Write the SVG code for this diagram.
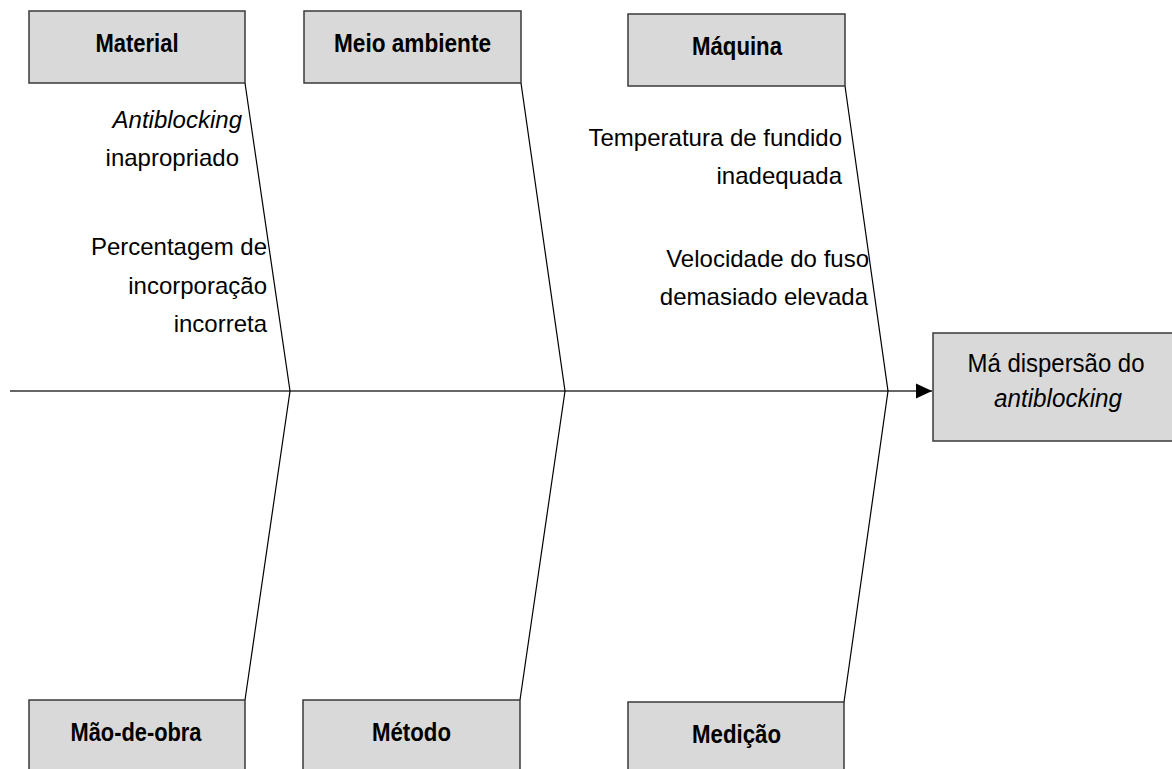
<svg xmlns="http://www.w3.org/2000/svg" width="1172" height="769" viewBox="0 0 1172 769">
<style>
.box{fill:#d9d9d9;stroke:#3a3a3a;stroke-width:1.5}
.lbl{font-family:"Liberation Sans",Arial,sans-serif;font-size:26px;font-weight:bold;fill:#000;text-anchor:middle}
.cause{font-family:"Liberation Sans",Arial,sans-serif;font-size:24px;fill:#000;text-anchor:end}
.eff{font-family:"Liberation Sans",Arial,sans-serif;font-size:25px;fill:#000;text-anchor:middle}
.bone{stroke:#000;stroke-width:1.2;fill:none}
.spine{stroke:#333;stroke-width:1.5;fill:none}
</style>
<defs>
<marker id="arrow" markerWidth="16" markerHeight="16" refX="16" refY="8" orient="auto" markerUnits="userSpaceOnUse">
<path d="M0,0.5 L16,8 L0,15.5 Z" fill="#000"/>
</marker>
</defs>
<g id="connectors">
<line class="spine" x1="10" y1="391" x2="932" y2="391" marker-end="url(#arrow)"/>
<polyline class="bone" points="245,83 290,391 245,700"/>
<polyline class="bone" points="521,83 565,391 520,700"/>
<polyline class="bone" points="845,86 888,391 844,702"/>
</g>
<g id="material">
<rect class="box" x="29" y="11" width="216" height="72"/>
<text class="lbl" x="137" y="52" textLength="83" lengthAdjust="spacingAndGlyphs">Material</text>
</g>
<g id="meio-ambiente">
<rect class="box" x="304" y="11" width="217" height="72"/>
<text class="lbl" x="412.5" y="52" textLength="157" lengthAdjust="spacingAndGlyphs">Meio ambiente</text>
</g>
<g id="maquina">
<rect class="box" x="628" y="14" width="217" height="72"/>
<text class="lbl" x="737" y="55" textLength="90" lengthAdjust="spacingAndGlyphs">Máquina</text>
</g>
<g id="mao-de-obra">
<rect class="box" x="29" y="700" width="216" height="80"/>
<text class="lbl" x="136" y="741" textLength="131" lengthAdjust="spacingAndGlyphs">Mão-de-obra</text>
</g>
<g id="metodo">
<rect class="box" x="303" y="700" width="217" height="80"/>
<text class="lbl" x="411.5" y="741" textLength="79" lengthAdjust="spacingAndGlyphs">Método</text>
</g>
<g id="medicao">
<rect class="box" x="628" y="702" width="216" height="80"/>
<text class="lbl" x="736.5" y="743" textLength="89" lengthAdjust="spacingAndGlyphs">Medição</text>
</g>
<g id="efeito">
<rect class="box" x="933" y="333" width="245" height="108"/>
<text class="eff" x="1056" y="372" textLength="177" lengthAdjust="spacingAndGlyphs">Má dispersão do</text>
<text class="eff" x="1058" y="407" font-style="italic" textLength="128" lengthAdjust="spacingAndGlyphs">antiblocking</text>
</g>
<g id="causas-material">
<text class="cause" x="242" y="128" font-style="italic">Antiblocking</text>
<text class="cause" x="239" y="166">inapropriado</text>
<text class="cause" x="267" y="255">Percentagem de</text>
<text class="cause" x="267" y="294">incorporação</text>
<text class="cause" x="267" y="332">incorreta</text>
</g>
<g id="causas-maquina">
<text class="cause" x="842" y="146">Temperatura de fundido</text>
<text class="cause" x="842" y="184">inadequada</text>
<text class="cause" x="869" y="267">Velocidade do fuso</text>
<text class="cause" x="868" y="305">demasiado elevada</text>
</g>
</svg>
